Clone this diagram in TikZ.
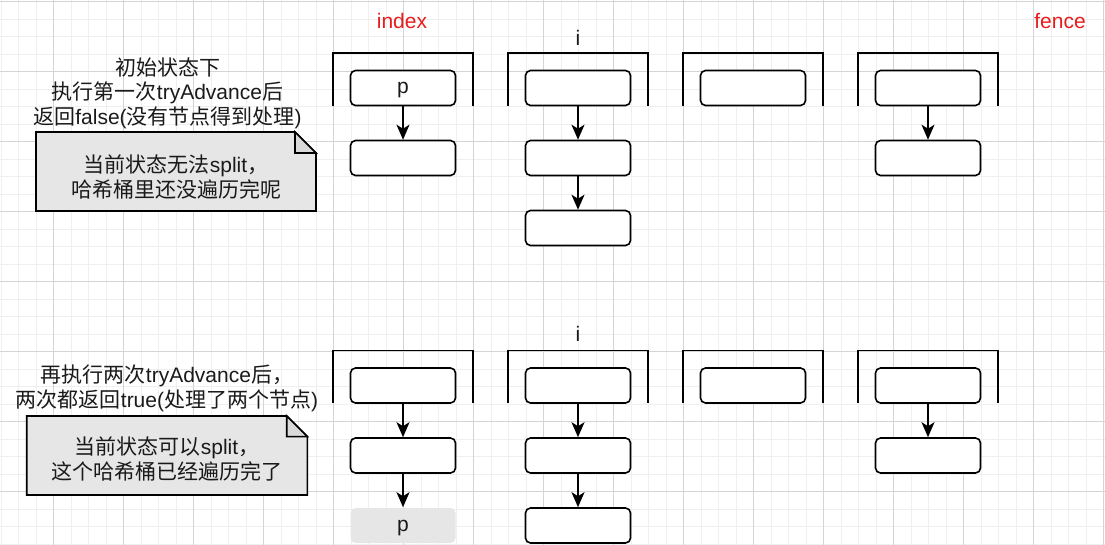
\documentclass[tikz,border=0pt]{standalone}
\usepackage{fontspec}
\setmainfont{Liberation Sans}
\newfontfamily\cjk{Noto Sans CJK SC}
\usetikzlibrary{arrows.meta}
\newcommand{\zh}[1]{{\cjk #1}}
\definecolor{gridminor}{HTML}{EFEFEF}
\definecolor{gridmajor}{HTML}{D4D4D4}
\definecolor{notefill}{HTML}{E6E6E6}
\definecolor{foldfill}{HTML}{D9D9D9}
\definecolor{labelred}{HTML}{E81C1C}
\definecolor{txt}{HTML}{1A1A1A}
\begin{document}
\begin{tikzpicture}[x=1pt,y=-1pt,
  entry/.style={draw=black, line width=1.6pt, rounded corners=5pt, minimum width=105pt, minimum height=35pt, inner sep=0pt, fill=white, font=\fontsize{21}{24}\selectfont, text=txt, text depth=0pt},
  ghost/.style={entry, draw=none, fill=notefill},
  link/.style={line width=1.6pt, -{Stealth[length=15pt,width=13pt,inset=4pt]}},
  bracket/.style={line width=1.6pt},
  lbl/.style={font=\fontsize{21}{24.5}\selectfont, text=txt, align=center, inner sep=0pt},
  redlbl/.style={lbl, text=labelred},
  notebody/.style={fill=notefill, draw=black, line width=1.6pt, line join=miter},
  notefold/.style={fill=foldfill, draw=black, line width=1.6pt, line join=miter}
]
\useasboundingbox (0,0) rectangle (1105,545);
% grid
\foreach \k in {0,...,63} \draw[gridminor, line width=0.9pt] ({1.3+17.5*\k},0) -- ({1.3+17.5*\k},545);
\foreach \k in {0,...,31} \draw[gridminor, line width=0.9pt] (0,{1.7+17.5*\k}) -- (1105,{1.7+17.5*\k});
\foreach \k in {0,...,15} \draw[gridmajor, line width=0.9pt] ({53.3+70*\k},0) -- ({53.3+70*\k},545);
\foreach \k in {0,...,7} \draw[gridmajor, line width=0.9pt] (0,{1.7+70*\k}) -- (1105,{1.7+70*\k});

% ===== top row =====
\foreach \cx in {403,578,753,928}
  \draw[bracket] ({\cx-70},106) -- ({\cx-70},53) -- ({\cx+70},53) -- ({\cx+70},106);
\node[redlbl] (index) at (402,21) {index};
\node[redlbl] (fence) at (1060,21) {fence};
\node[lbl] (itop) at (578,38) {i};

\node[entry] (a1) at (403,88) {p};
\node[entry] (a2) at (403,158) {};
\node[entry] (b1) at (578,88) {};
\node[entry] (b2) at (578,158) {};
\node[entry] (b3) at (578,228) {};
\node[entry] (c1) at (753,88) {};
\node[entry] (d1) at (928,88) {};
\node[entry] (d2) at (928,158) {};
\draw[link] (a1) -- (a2);
\draw[link] (b1) -- (b2);
\draw[link] (b2) -- (b3);
\draw[link] (d1) -- (d2);

\node[lbl] (desc1) at (167.5,93) {\zh{初始状态下}\\\zh{执行第一次}tryAdvance\zh{后}\\\zh{返回}false(\zh{没有节点得到处理})};
\draw[notebody] (36,132) -- (295,132) -- (316,153) -- (316,211) -- (36,211) -- cycle;
\draw[notefold] (295,132) -- (295,153) -- (316,153) -- cycle;
\node[lbl] (note1) at (176,177) {\zh{当前状态无法}split\zh{，}\\\zh{哈希桶里还没遍历完呢}};

% ===== bottom row =====
\foreach \cx in {403,578,753,928}
  \draw[bracket] ({\cx-70},403) -- ({\cx-70},350.5) -- ({\cx+70},350.5) -- ({\cx+70},403);
\node[lbl] (ibot) at (578,334) {i};

\node[entry] (e1) at (403,385.5) {};
\node[entry] (e2) at (403,455.5) {};
\node[ghost] (e3) at (403,525.5) {p};
\node[entry] (f1) at (578,385.5) {};
\node[entry] (f2) at (578,455.5) {};
\node[entry] (f3) at (578,525.5) {};
\node[entry] (g1) at (753,385.5) {};
\node[entry] (h1) at (928,385.5) {};
\node[entry] (h2) at (928,455.5) {};
\draw[link] (e1) -- (e2);
\draw[link] (e2) -- (e3);
\draw[link] (f1) -- (f2);
\draw[link] (f2) -- (f3);
\draw[link] (h1) -- (h2);

\node[lbl] (desc2) at (167,388.5) {\zh{再执行两次}tryAdvance\zh{后，}\\\zh{两次都返回}true(\zh{处理了两个节点})};
\draw[notebody] (26.7,416) -- (286.7,416) -- (307.3,436.6) -- (307.3,495) -- (26.7,495) -- cycle;
\draw[notefold] (286.7,416) -- (286.7,436.6) -- (307.3,436.6) -- cycle;
\node[lbl] (note2) at (167,459) {\zh{当前状态可以}split\zh{，}\\\zh{这个哈希桶已经遍历完了}};
\end{tikzpicture}
\end{document}
